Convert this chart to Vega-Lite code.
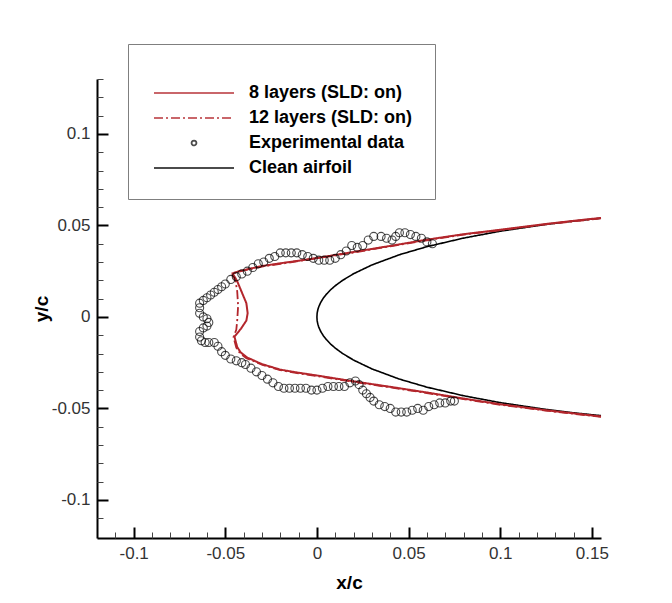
{
  "$schema": "https://vega.github.io/schema/vega-lite/v6.json",
  "width": 504,
  "height": 459,
  "autosize": {"type": "none"},
  "padding": {"left": 97, "top": 79, "right": 71, "bottom": 65},
  "background": "white",
  "config": {
    "view": {"stroke": null},
    "axis": {"grid": false, "labelFont": "Liberation Sans", "titleFont": "Liberation Sans", "labelColor": "#333333", "labelFontSize": 17, "titleFontSize": 19, "titleFontWeight": "bold", "titleColor": "black", "domainColor": "black", "tickColor": "black"}
  },
  "datasets": {
    "airfoil": [
      {"series": "Clean airfoil", "o": 1, "x": 0.155, "y": 0.05395},
      {"series": "Clean airfoil", "o": 2, "x": 0.14, "y": 0.05238},
      {"series": "Clean airfoil", "o": 3, "x": 0.125, "y": 0.05055},
      {"series": "Clean airfoil", "o": 4, "x": 0.1, "y": 0.04683},
      {"series": "Clean airfoil", "o": 5, "x": 0.08, "y": 0.04307},
      {"series": "Clean airfoil", "o": 6, "x": 0.06, "y": 0.03838},
      {"series": "Clean airfoil", "o": 7, "x": 0.045, "y": 0.03398},
      {"series": "Clean airfoil", "o": 8, "x": 0.03, "y": 0.0284},
      {"series": "Clean airfoil", "o": 9, "x": 0.02, "y": 0.0236},
      {"series": "Clean airfoil", "o": 10, "x": 0.014, "y": 0.01998},
      {"series": "Clean airfoil", "o": 11, "x": 0.01, "y": 0.01704},
      {"series": "Clean airfoil", "o": 12, "x": 0.0075, "y": 0.01485},
      {"series": "Clean airfoil", "o": 13, "x": 0.005, "y": 0.01221},
      {"series": "Clean airfoil", "o": 14, "x": 0.0035, "y": 0.01027},
      {"series": "Clean airfoil", "o": 15, "x": 0.002, "y": 0.00782},
      {"series": "Clean airfoil", "o": 16, "x": 0.001, "y": 0.00556},
      {"series": "Clean airfoil", "o": 17, "x": 0.0005, "y": 0.00395},
      {"series": "Clean airfoil", "o": 18, "x": 0.0002, "y": 0.0025},
      {"series": "Clean airfoil", "o": 19, "x": 0.0001, "y": 0.00177},
      {"series": "Clean airfoil", "o": 20, "x": 0, "y": 0},
      {"series": "Clean airfoil", "o": 21, "x": 0.0001, "y": -0.00177},
      {"series": "Clean airfoil", "o": 22, "x": 0.0002, "y": -0.0025},
      {"series": "Clean airfoil", "o": 23, "x": 0.0005, "y": -0.00395},
      {"series": "Clean airfoil", "o": 24, "x": 0.001, "y": -0.00556},
      {"series": "Clean airfoil", "o": 25, "x": 0.002, "y": -0.00782},
      {"series": "Clean airfoil", "o": 26, "x": 0.0035, "y": -0.01027},
      {"series": "Clean airfoil", "o": 27, "x": 0.005, "y": -0.01221},
      {"series": "Clean airfoil", "o": 28, "x": 0.0075, "y": -0.01485},
      {"series": "Clean airfoil", "o": 29, "x": 0.01, "y": -0.01704},
      {"series": "Clean airfoil", "o": 30, "x": 0.014, "y": -0.01998},
      {"series": "Clean airfoil", "o": 31, "x": 0.02, "y": -0.0236},
      {"series": "Clean airfoil", "o": 32, "x": 0.03, "y": -0.0284},
      {"series": "Clean airfoil", "o": 33, "x": 0.045, "y": -0.03398},
      {"series": "Clean airfoil", "o": 34, "x": 0.06, "y": -0.03838},
      {"series": "Clean airfoil", "o": 35, "x": 0.08, "y": -0.04307},
      {"series": "Clean airfoil", "o": 36, "x": 0.1, "y": -0.04683},
      {"series": "Clean airfoil", "o": 37, "x": 0.125, "y": -0.05055},
      {"series": "Clean airfoil", "o": 38, "x": 0.14, "y": -0.05238},
      {"series": "Clean airfoil", "o": 39, "x": 0.155, "y": -0.05395}
    ],
    "l8": [
      {"series": "8 layers (SLD: on)", "o": 1, "x": 0.155, "y": 0.0541},
      {"series": "8 layers (SLD: on)", "o": 2, "x": 0.14, "y": 0.0525},
      {"series": "8 layers (SLD: on)", "o": 3, "x": 0.125, "y": 0.0508},
      {"series": "8 layers (SLD: on)", "o": 4, "x": 0.1, "y": 0.0476},
      {"series": "8 layers (SLD: on)", "o": 5, "x": 0.08, "y": 0.0452},
      {"series": "8 layers (SLD: on)", "o": 6, "x": 0.06, "y": 0.0422},
      {"series": "8 layers (SLD: on)", "o": 7, "x": 0.04, "y": 0.0388},
      {"series": "8 layers (SLD: on)", "o": 8, "x": 0.02, "y": 0.0355},
      {"series": "8 layers (SLD: on)", "o": 9, "x": 0.0, "y": 0.0322},
      {"series": "8 layers (SLD: on)", "o": 10, "x": -0.01, "y": 0.0307},
      {"series": "8 layers (SLD: on)", "o": 11, "x": -0.02, "y": 0.0293},
      {"series": "8 layers (SLD: on)", "o": 12, "x": -0.03, "y": 0.0278},
      {"series": "8 layers (SLD: on)", "o": 13, "x": -0.038, "y": 0.026},
      {"series": "8 layers (SLD: on)", "o": 14, "x": -0.043, "y": 0.0248},
      {"series": "8 layers (SLD: on)", "o": 15, "x": -0.046, "y": 0.0238},
      {"series": "8 layers (SLD: on)", "o": 16, "x": -0.0435, "y": 0.0195},
      {"series": "8 layers (SLD: on)", "o": 17, "x": -0.041, "y": 0.0135},
      {"series": "8 layers (SLD: on)", "o": 18, "x": -0.0385, "y": 0.0075},
      {"series": "8 layers (SLD: on)", "o": 19, "x": -0.0378, "y": 0.002},
      {"series": "8 layers (SLD: on)", "o": 20, "x": -0.0385, "y": -0.002},
      {"series": "8 layers (SLD: on)", "o": 21, "x": -0.0415, "y": -0.0065},
      {"series": "8 layers (SLD: on)", "o": 22, "x": -0.045, "y": -0.0108},
      {"series": "8 layers (SLD: on)", "o": 23, "x": -0.0435, "y": -0.0165},
      {"series": "8 layers (SLD: on)", "o": 24, "x": -0.0415, "y": -0.0195},
      {"series": "8 layers (SLD: on)", "o": 25, "x": -0.038, "y": -0.0222},
      {"series": "8 layers (SLD: on)", "o": 26, "x": -0.03, "y": -0.0258},
      {"series": "8 layers (SLD: on)", "o": 27, "x": -0.02, "y": -0.0288},
      {"series": "8 layers (SLD: on)", "o": 28, "x": -0.01, "y": -0.0305},
      {"series": "8 layers (SLD: on)", "o": 29, "x": 0.0, "y": -0.032},
      {"series": "8 layers (SLD: on)", "o": 30, "x": 0.02, "y": -0.0352},
      {"series": "8 layers (SLD: on)", "o": 31, "x": 0.04, "y": -0.0382},
      {"series": "8 layers (SLD: on)", "o": 32, "x": 0.06, "y": -0.0413},
      {"series": "8 layers (SLD: on)", "o": 33, "x": 0.08, "y": -0.0446},
      {"series": "8 layers (SLD: on)", "o": 34, "x": 0.1, "y": -0.0477},
      {"series": "8 layers (SLD: on)", "o": 35, "x": 0.125, "y": -0.051},
      {"series": "8 layers (SLD: on)", "o": 36, "x": 0.14, "y": -0.0527},
      {"series": "8 layers (SLD: on)", "o": 37, "x": 0.155, "y": -0.0544}
    ],
    "l12": [
      {"series": "12 layers (SLD: on)", "o": 1, "x": 0.155, "y": 0.0538},
      {"series": "12 layers (SLD: on)", "o": 2, "x": 0.14, "y": 0.0522},
      {"series": "12 layers (SLD: on)", "o": 3, "x": 0.125, "y": 0.0506},
      {"series": "12 layers (SLD: on)", "o": 4, "x": 0.1, "y": 0.0474},
      {"series": "12 layers (SLD: on)", "o": 5, "x": 0.08, "y": 0.045},
      {"series": "12 layers (SLD: on)", "o": 6, "x": 0.06, "y": 0.0419},
      {"series": "12 layers (SLD: on)", "o": 7, "x": 0.04, "y": 0.0386},
      {"series": "12 layers (SLD: on)", "o": 8, "x": 0.02, "y": 0.0352},
      {"series": "12 layers (SLD: on)", "o": 9, "x": 0.0, "y": 0.032},
      {"series": "12 layers (SLD: on)", "o": 10, "x": -0.01, "y": 0.0305},
      {"series": "12 layers (SLD: on)", "o": 11, "x": -0.02, "y": 0.029},
      {"series": "12 layers (SLD: on)", "o": 12, "x": -0.03, "y": 0.0275},
      {"series": "12 layers (SLD: on)", "o": 13, "x": -0.038, "y": 0.0258},
      {"series": "12 layers (SLD: on)", "o": 14, "x": -0.043, "y": 0.0246},
      {"series": "12 layers (SLD: on)", "o": 15, "x": -0.0465, "y": 0.0235},
      {"series": "12 layers (SLD: on)", "o": 16, "x": -0.0445, "y": 0.02},
      {"series": "12 layers (SLD: on)", "o": 17, "x": -0.0435, "y": 0.014},
      {"series": "12 layers (SLD: on)", "o": 18, "x": -0.043, "y": 0.006},
      {"series": "12 layers (SLD: on)", "o": 19, "x": -0.0435, "y": -0.002},
      {"series": "12 layers (SLD: on)", "o": 20, "x": -0.044, "y": -0.007},
      {"series": "12 layers (SLD: on)", "o": 21, "x": -0.0455, "y": -0.011},
      {"series": "12 layers (SLD: on)", "o": 22, "x": -0.044, "y": -0.0168},
      {"series": "12 layers (SLD: on)", "o": 23, "x": -0.042, "y": -0.0198},
      {"series": "12 layers (SLD: on)", "o": 24, "x": -0.0385, "y": -0.0225},
      {"series": "12 layers (SLD: on)", "o": 25, "x": -0.03, "y": -0.0261},
      {"series": "12 layers (SLD: on)", "o": 26, "x": -0.02, "y": -0.0291},
      {"series": "12 layers (SLD: on)", "o": 27, "x": -0.01, "y": -0.0308},
      {"series": "12 layers (SLD: on)", "o": 28, "x": 0.0, "y": -0.0323},
      {"series": "12 layers (SLD: on)", "o": 29, "x": 0.02, "y": -0.0355},
      {"series": "12 layers (SLD: on)", "o": 30, "x": 0.04, "y": -0.0385},
      {"series": "12 layers (SLD: on)", "o": 31, "x": 0.06, "y": -0.0416},
      {"series": "12 layers (SLD: on)", "o": 32, "x": 0.08, "y": -0.0449},
      {"series": "12 layers (SLD: on)", "o": 33, "x": 0.1, "y": -0.048},
      {"series": "12 layers (SLD: on)", "o": 34, "x": 0.125, "y": -0.0512},
      {"series": "12 layers (SLD: on)", "o": 35, "x": 0.14, "y": -0.0529},
      {"series": "12 layers (SLD: on)", "o": 36, "x": 0.155, "y": -0.0546}
    ],
    "exp": [
      {"series": "Experimental data", "x": 0.063, "y": 0.040},
      {"series": "Experimental data", "x": 0.060, "y": 0.041},
      {"series": "Experimental data", "x": 0.057, "y": 0.043},
      {"series": "Experimental data", "x": 0.054, "y": 0.044},
      {"series": "Experimental data", "x": 0.051, "y": 0.045},
      {"series": "Experimental data", "x": 0.048, "y": 0.046},
      {"series": "Experimental data", "x": 0.045, "y": 0.046},
      {"series": "Experimental data", "x": 0.043, "y": 0.044},
      {"series": "Experimental data", "x": 0.041, "y": 0.042},
      {"series": "Experimental data", "x": 0.038, "y": 0.043},
      {"series": "Experimental data", "x": 0.035, "y": 0.044},
      {"series": "Experimental data", "x": 0.031, "y": 0.044},
      {"series": "Experimental data", "x": 0.028, "y": 0.042},
      {"series": "Experimental data", "x": 0.025, "y": 0.039},
      {"series": "Experimental data", "x": 0.022, "y": 0.038},
      {"series": "Experimental data", "x": 0.019, "y": 0.039},
      {"series": "Experimental data", "x": 0.016, "y": 0.036},
      {"series": "Experimental data", "x": 0.013, "y": 0.034},
      {"series": "Experimental data", "x": 0.010, "y": 0.032},
      {"series": "Experimental data", "x": 0.007, "y": 0.031},
      {"series": "Experimental data", "x": 0.004, "y": 0.031},
      {"series": "Experimental data", "x": 0.001, "y": 0.031},
      {"series": "Experimental data", "x": -0.002, "y": 0.032},
      {"series": "Experimental data", "x": -0.005, "y": 0.033},
      {"series": "Experimental data", "x": -0.008, "y": 0.034},
      {"series": "Experimental data", "x": -0.011, "y": 0.035},
      {"series": "Experimental data", "x": -0.014, "y": 0.035},
      {"series": "Experimental data", "x": -0.017, "y": 0.035},
      {"series": "Experimental data", "x": -0.020, "y": 0.035},
      {"series": "Experimental data", "x": -0.023, "y": 0.033},
      {"series": "Experimental data", "x": -0.026, "y": 0.032},
      {"series": "Experimental data", "x": -0.029, "y": 0.030},
      {"series": "Experimental data", "x": -0.032, "y": 0.029},
      {"series": "Experimental data", "x": -0.035, "y": 0.027},
      {"series": "Experimental data", "x": -0.038, "y": 0.025},
      {"series": "Experimental data", "x": -0.041, "y": 0.0235},
      {"series": "Experimental data", "x": -0.044, "y": 0.022},
      {"series": "Experimental data", "x": -0.047, "y": 0.0205},
      {"series": "Experimental data", "x": -0.050, "y": 0.018},
      {"series": "Experimental data", "x": -0.052, "y": 0.0165},
      {"series": "Experimental data", "x": -0.054, "y": 0.015},
      {"series": "Experimental data", "x": -0.056, "y": 0.0135},
      {"series": "Experimental data", "x": -0.058, "y": 0.012},
      {"series": "Experimental data", "x": -0.060, "y": 0.0105},
      {"series": "Experimental data", "x": -0.062, "y": 0.009},
      {"series": "Experimental data", "x": -0.064, "y": 0.0075},
      {"series": "Experimental data", "x": -0.064, "y": 0.005},
      {"series": "Experimental data", "x": -0.064, "y": 0.002},
      {"series": "Experimental data", "x": -0.062, "y": 0.0},
      {"series": "Experimental data", "x": -0.060, "y": -0.001},
      {"series": "Experimental data", "x": -0.059, "y": -0.003},
      {"series": "Experimental data", "x": -0.060, "y": -0.005},
      {"series": "Experimental data", "x": -0.062, "y": -0.006},
      {"series": "Experimental data", "x": -0.064, "y": -0.008},
      {"series": "Experimental data", "x": -0.064, "y": -0.011},
      {"series": "Experimental data", "x": -0.063, "y": -0.013},
      {"series": "Experimental data", "x": -0.061, "y": -0.014},
      {"series": "Experimental data", "x": -0.059, "y": -0.014},
      {"series": "Experimental data", "x": -0.056, "y": -0.014},
      {"series": "Experimental data", "x": -0.054, "y": -0.016},
      {"series": "Experimental data", "x": -0.052, "y": -0.019},
      {"series": "Experimental data", "x": -0.050, "y": -0.021},
      {"series": "Experimental data", "x": -0.047, "y": -0.023},
      {"series": "Experimental data", "x": -0.044, "y": -0.024},
      {"series": "Experimental data", "x": -0.041, "y": -0.025},
      {"series": "Experimental data", "x": -0.039, "y": -0.026},
      {"series": "Experimental data", "x": -0.036, "y": -0.028},
      {"series": "Experimental data", "x": -0.033, "y": -0.030},
      {"series": "Experimental data", "x": -0.030, "y": -0.032},
      {"series": "Experimental data", "x": -0.027, "y": -0.034},
      {"series": "Experimental data", "x": -0.024, "y": -0.036},
      {"series": "Experimental data", "x": -0.021, "y": -0.038},
      {"series": "Experimental data", "x": -0.018, "y": -0.039},
      {"series": "Experimental data", "x": -0.015, "y": -0.039},
      {"series": "Experimental data", "x": -0.012, "y": -0.039},
      {"series": "Experimental data", "x": -0.009, "y": -0.039},
      {"series": "Experimental data", "x": -0.006, "y": -0.039},
      {"series": "Experimental data", "x": -0.003, "y": -0.040},
      {"series": "Experimental data", "x": 0.000, "y": -0.040},
      {"series": "Experimental data", "x": 0.003, "y": -0.039},
      {"series": "Experimental data", "x": 0.006, "y": -0.038},
      {"series": "Experimental data", "x": 0.009, "y": -0.038},
      {"series": "Experimental data", "x": 0.012, "y": -0.038},
      {"series": "Experimental data", "x": 0.015, "y": -0.038},
      {"series": "Experimental data", "x": 0.018, "y": -0.036},
      {"series": "Experimental data", "x": 0.021, "y": -0.035},
      {"series": "Experimental data", "x": 0.023, "y": -0.037},
      {"series": "Experimental data", "x": 0.025, "y": -0.040},
      {"series": "Experimental data", "x": 0.027, "y": -0.042},
      {"series": "Experimental data", "x": 0.029, "y": -0.044},
      {"series": "Experimental data", "x": 0.031, "y": -0.046},
      {"series": "Experimental data", "x": 0.034, "y": -0.048},
      {"series": "Experimental data", "x": 0.037, "y": -0.049},
      {"series": "Experimental data", "x": 0.040, "y": -0.050},
      {"series": "Experimental data", "x": 0.043, "y": -0.052},
      {"series": "Experimental data", "x": 0.046, "y": -0.052},
      {"series": "Experimental data", "x": 0.049, "y": -0.052},
      {"series": "Experimental data", "x": 0.052, "y": -0.051},
      {"series": "Experimental data", "x": 0.055, "y": -0.050},
      {"series": "Experimental data", "x": 0.058, "y": -0.051},
      {"series": "Experimental data", "x": 0.061, "y": -0.049},
      {"series": "Experimental data", "x": 0.064, "y": -0.048},
      {"series": "Experimental data", "x": 0.067, "y": -0.047},
      {"series": "Experimental data", "x": 0.070, "y": -0.047},
      {"series": "Experimental data", "x": 0.073, "y": -0.046},
      {"series": "Experimental data", "x": 0.075, "y": -0.046}
    ]
  },
  "layer": [
    {
      "data": {"name": "airfoil"},
      "mark": {"type": "line", "strokeWidth": 1.6},
      "encoding": {
        "x": {"field": "x", "type": "quantitative", "scale": {"domain": [-0.12, 0.155], "nice": false, "zero": false},
              "axis": {"orient": "bottom", "values": [-0.1, -0.05, 0, 0.05, 0.1, 0.15], "labelExpr": "'' + datum.value", "ticks": false, "domainWidth": 2, "labelPadding": 7, "title": "x/c", "titlePadding": 12}},
        "y": {"field": "y", "type": "quantitative", "scale": {"domain": [-0.1208, 0.13], "nice": false, "zero": false},
              "axis": {"orient": "left", "values": [-0.1, -0.05, 0, 0.05, 0.1], "labelExpr": "'' + datum.value", "ticks": false, "domainWidth": 2, "labelPadding": 7, "title": "y/c", "titlePadding": 0}},
        "order": {"field": "o", "type": "quantitative"},
        "color": {"field": "series", "type": "nominal",
                  "scale": {"domain": ["8 layers (SLD: on)", "12 layers (SLD: on)", "Experimental data", "Clean airfoil"], "range": ["#b3262c", "#b3262c", "#000000", "#000000"]},
                  "legend": {"title": " ", "orient": "none", "legendX": 31, "legendY": -35, "padding": 22, "strokeColor": "#7f7f7f", "fillColor": "white", "labelFont": "Liberation Sans", "labelFontSize": 18, "labelFontWeight": "bold", "labelColor": "black", "symbolSize": 64, "symbolOffset": 35, "labelOffset": 46, "rowPadding": 7, "titleFontSize": 14, "titlePadding": 4, "symbolStrokeWidth": 1.8, "labelLimit": 300}},
        "strokeDash": {"field": "series", "type": "nominal",
                  "scale": {"domain": ["8 layers (SLD: on)", "12 layers (SLD: on)", "Experimental data", "Clean airfoil"], "range": [[1, 0], [9, 3, 2, 3], [1, 0], [1, 0]]},
                  "legend": {"title": " ", "orient": "none", "legendX": 31, "legendY": -35}}
      }
    },
    {
      "data": {"name": "l8"},
      "mark": {"type": "line", "strokeWidth": 2},
      "encoding": {
        "x": {"field": "x", "type": "quantitative", "scale": {"domain": [-0.12, 0.155], "nice": false, "zero": false},
              "axis": {"orient": "bottom", "values": [-0.1, -0.05, 0, 0.05, 0.1, 0.15], "labels": false, "domain": false, "tickSize": -11, "tickWidth": 2, "title": null}},
        "y": {"field": "y", "type": "quantitative", "scale": {"domain": [-0.1208, 0.13], "nice": false, "zero": false},
              "axis": {"orient": "left", "values": [-0.1, -0.05, 0, 0.05, 0.1], "labels": false, "domain": false, "tickSize": -11, "tickWidth": 2, "title": null}},
        "order": {"field": "o", "type": "quantitative"},
        "color": {"field": "series", "type": "nominal"},
        "strokeDash": {"field": "series", "type": "nominal"}
      }
    },
    {
      "data": {"name": "l12"},
      "mark": {"type": "line", "strokeWidth": 1.8},
      "encoding": {
        "x": {"field": "x", "type": "quantitative", "scale": {"domain": [-0.12, 0.155], "nice": false, "zero": false},
              "axis": {"orient": "bottom", "values": [-0.11, -0.09, -0.08, -0.07, -0.06, -0.04, -0.03, -0.02, -0.01, 0.01, 0.02, 0.03, 0.04, 0.06, 0.07, 0.08, 0.09, 0.11, 0.12, 0.13, 0.14], "labels": false, "domain": false, "tickSize": -6, "tickWidth": 1, "tickColor": "#444444", "title": null}},
        "y": {"field": "y", "type": "quantitative", "scale": {"domain": [-0.1208, 0.13], "nice": false, "zero": false},
              "axis": {"orient": "left", "values": [-0.11, -0.09, -0.08, -0.07, -0.06, -0.04, -0.03, -0.02, -0.01, 0.01, 0.02, 0.03, 0.04, 0.06, 0.07, 0.08, 0.09, 0.11, 0.12, 0.13], "labels": false, "domain": false, "tickSize": -6, "tickWidth": 1, "tickColor": "#444444", "title": null}},
        "order": {"field": "o", "type": "quantitative"},
        "color": {"field": "series", "type": "nominal"},
        "strokeDash": {"field": "series", "type": "nominal"}
      }
    },
    {
      "data": {"name": "exp"},
      "mark": {"type": "point", "filled": false, "strokeWidth": 1.1, "size": 180},
      "encoding": {
        "x": {"field": "x", "type": "quantitative", "scale": {"domain": [-0.12, 0.155], "nice": false, "zero": false}, "axis": null},
        "y": {"field": "y", "type": "quantitative", "scale": {"domain": [-0.1208, 0.13], "nice": false, "zero": false}, "axis": null},
        "color": {"field": "series", "type": "nominal"},
        "shape": {"field": "series", "type": "nominal",
                  "scale": {"domain": ["8 layers (SLD: on)", "12 layers (SLD: on)", "Experimental data", "Clean airfoil"], "range": ["M-10,0H10", "M-10,0H10", "M-0.6,0A0.6,0.6 0 1,0 0.6,0A0.6,0.6 0 1,0 -0.6,0Z", "M-10,0H10"]},
                  "legend": {"title": " ", "orient": "none", "legendX": 31, "legendY": -35}}
      }
    }
  ],
  "resolve": {"axis": {"x": "independent", "y": "independent"}}
}
